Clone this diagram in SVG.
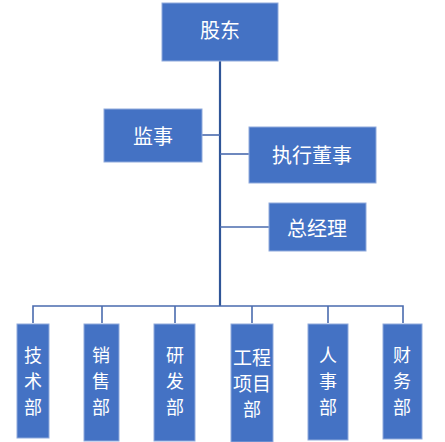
<svg xmlns="http://www.w3.org/2000/svg" width="445" height="442" viewBox="0 0 445 442">
<style>
.box{fill:#4472C4;stroke:#8FAADC;stroke-width:1}
.t{fill:#ffffff;font-family:"Noto Sans CJK SC","Liberation Sans",sans-serif;font-size:20px;text-anchor:middle;dominant-baseline:central}
.v{font-size:18px}
.trunk{stroke:#2F5597;stroke-width:2.2;fill:none}
.br{stroke:#4A6BAE;stroke-width:1.6;fill:none}
</style>
<rect width="445" height="442" fill="#ffffff"/>
<g id="connectors">
<line class="trunk" x1="220" y1="61" x2="220" y2="306"/>
<line class="br" x1="202" y1="135" x2="220" y2="135"/>
<line class="br" x1="220" y1="154" x2="249" y2="154"/>
<line class="br" x1="220" y1="227" x2="269" y2="227"/>
<polyline class="br" points="33,323 33,306 403,306 403,323"/>
<line class="br" x1="102" y1="306" x2="102" y2="323"/>
<line class="br" x1="175" y1="306" x2="175" y2="323"/>
<line class="br" x1="252" y1="306" x2="252" y2="323"/>
<line class="br" x1="328" y1="306" x2="328" y2="323"/>
</g>
<g id="gudong"><rect class="box" x="162" y="3" width="116" height="58"/><text class="t" x="220" y="29">股东</text></g>
<g id="jianshi"><rect class="box" x="104" y="109" width="98" height="53"/><text class="t" x="153" y="135">监事</text></g>
<g id="zhixingdongshi"><rect class="box" x="249" y="127" width="127" height="56"/><text class="t" x="312" y="154">执行董事</text></g>
<g id="zongjingli"><rect class="box" x="269" y="203" width="97" height="48"/><text class="t" x="317" y="227">总经理</text></g>
<g id="jishubu"><rect class="box" x="17" y="324" width="32" height="114"/><text class="t v" x="33" y="354">技</text><text class="t v" x="33" y="380">术</text><text class="t v" x="33" y="406">部</text></g>
<g id="xiaoshoubu"><rect class="box" x="84" y="324" width="35" height="117"/><text class="t v" x="101" y="354">销</text><text class="t v" x="101" y="380">售</text><text class="t v" x="101" y="406">部</text></g>
<g id="yanfabu"><rect class="box" x="154" y="324" width="41" height="117"/><text class="t v" x="175" y="354">研</text><text class="t v" x="175" y="380">发</text><text class="t v" x="175" y="406">部</text></g>
<g id="gongchengxiangmubu"><rect class="box" x="231" y="324" width="42" height="118"/><text class="t" style="font-size:19px" x="252" y="356">工程</text><text class="t" style="font-size:19px" x="252" y="382">项目</text><text class="t v" x="252" y="408">部</text></g>
<g id="renshibu"><rect class="box" x="308" y="324" width="40" height="116"/><text class="t v" x="328" y="354">人</text><text class="t v" x="328" y="380">事</text><text class="t v" x="328" y="406">部</text></g>
<g id="caiwubu"><rect class="box" x="383" y="324" width="39" height="115"/><text class="t v" x="402" y="354">财</text><text class="t v" x="402" y="380">务</text><text class="t v" x="402" y="406">部</text></g>
</svg>
